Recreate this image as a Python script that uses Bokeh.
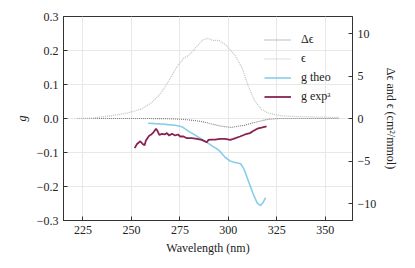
from bokeh.plotting import figure
from bokeh.models import Range1d, LinearAxis, FixedTicker, Legend, LegendItem
from bokeh.embed import file_html
from bokeh.resources import INLINE

# ---- data ----
eps_wl = [222, 230, 239, 248, 255, 260, 265, 270, 273.5, 277, 280, 283.5, 287, 289.5, 292, 295,
          299, 303.5, 307, 310, 313.5, 317, 320.5, 324, 327.5, 334, 340, 346, 352, 357]
eps = [0.0, 0.05, 0.3, 0.65, 1.1, 1.8, 2.9, 4.7, 6.1, 7.1, 7.5, 8.4, 9.3, 9.4, 9.2, 9.2,
       8.6, 7.4, 6.0, 4.0, 2.1, 1.1, 0.65, 0.45, 0.32, 0.24, 0.2, 0.17, 0.14, 0.12]

deps_wl = [222, 230, 240, 250, 260, 268, 274, 279, 284.5, 288, 291.5, 295, 298, 301, 303, 306,
           308.5, 311, 314, 317, 320, 322, 326, 330, 340, 350, 357]
deps = [0, 0, 0, 0, 0, -0.02, -0.07, -0.15, -0.3, -0.45, -0.65, -0.85, -0.95, -1.05, -1.0, -0.86,
        -0.8, -0.6, -0.45, -0.27, -0.12, -0.07, 0, 0, 0, 0, 0]

gtheo_wl = [258.6, 262, 265.8, 269, 272.6, 276, 279.4, 282, 284.6, 287, 289.7, 292, 294.8, 296.5,
            298.3, 300.9, 303, 304.3, 306.3, 308, 310.2, 312.8, 314.9, 316.6, 318, 319.2]
gtheo = [-0.014, -0.015, -0.016, -0.018, -0.020, -0.024, -0.037, -0.046, -0.055, -0.064, -0.073,
         -0.082, -0.092, -0.102, -0.114, -0.125, -0.129, -0.130, -0.133, -0.148, -0.182, -0.222,
         -0.249, -0.256, -0.246, -0.233]

gexp_wl = [251.7, 252.9, 254.6, 255.8, 256.8, 257.5, 258.6, 259.3, 260.3, 261.5, 262.7, 263.5,
           264.4, 265.8, 267.1, 268.3, 269.5, 270.9, 272.6, 274, 275.2, 276.9, 278.6, 281.2,
           283.8, 286.3, 288.9, 289.7, 291.5, 293.2, 295.7, 298.3, 300.9, 302.6, 306, 308.6,
           311.1, 312.8, 314.9, 317.1, 319.7]
gexp = [-0.087, -0.075, -0.067, -0.075, -0.079, -0.065, -0.055, -0.05, -0.047, -0.040, -0.030,
        -0.037, -0.048, -0.045, -0.047, -0.043, -0.05, -0.045, -0.05, -0.047, -0.053, -0.053,
        -0.058, -0.058, -0.06, -0.063, -0.07, -0.063, -0.062, -0.062, -0.06, -0.06, -0.063,
        -0.06, -0.053, -0.047, -0.043, -0.037, -0.030, -0.027, -0.023]

x_ticks = [225, 250, 275, 300, 325, 350]
g_ticks = [-0.3, -0.2, -0.1, 0.0, 0.1, 0.2, 0.3]
g_tick_labels = ["\u22120.3", "\u22120.2", "\u22120.1", "0.0", "0.1", "0.2", "0.3"]
e_ticks = [-10, -5, 0, 5, 10]
e_tick_labels = ["\u221210", "\u22125", "0", "5", "10"]

FONT = "Liberation Serif"
AX = "#333333"

p = figure(frame_width=289, frame_height=204, output_backend="svg", toolbar_location=None,
           x_range=Range1d(215, 364), y_range=Range1d(-0.3, 0.3),
           min_border_left=63, min_border_right=58, min_border_top=16, min_border_bottom=44)
p.extra_y_ranges = {"eps": Range1d(-12, 12)}
p.background_fill_color = "white"
p.border_fill_color = "white"
p.outline_line_color = AX
p.outline_line_width = 1

r_deps = p.line(deps_wl, deps, y_range_name="eps", line_color="#808080", line_width=1.2,
                line_dash="1 1")
r_eps = p.line(eps_wl, eps, y_range_name="eps", line_color="#c0c0c0", line_width=1.2,
               line_dash="1 1")
r_theo = p.line(gtheo_wl, gtheo, line_color="#87ceeb", line_width=1.6)
r_exp = p.line(gexp_wl, gexp, line_color="#882255", line_width=1.8)


def style_axis(ax, ticks, labels=None):
    ax.ticker = FixedTicker(ticks=ticks)
    if labels is not None:
        ax.major_label_overrides = {t: l for t, l in zip(ticks, labels)}
    ax.axis_line_color = AX
    ax.major_tick_line_color = AX
    ax.major_tick_in = 4
    ax.major_tick_out = 0
    ax.minor_tick_line_color = None
    ax.major_label_text_font = FONT
    ax.major_label_text_font_size = "12px"
    ax.major_label_text_color = "#222222"
    ax.axis_label_text_font = FONT
    ax.axis_label_text_font_size = "12px"
    ax.axis_label_text_font_style = "normal"
    ax.axis_label_text_color = "#222222"


style_axis(p.xaxis[0], x_ticks)
p.xaxis[0].axis_label = "Wavelength (nm)"
p.xaxis[0].axis_label_standoff = 4
style_axis(p.yaxis[0], g_ticks, g_tick_labels)
p.yaxis[0].axis_label = "g"
p.yaxis[0].axis_label_text_font_style = "italic"

right = LinearAxis(y_range_name="eps", axis_label="\u0394\u03f5 and \u03f5 (cm\u00b2/mmol)")
style_axis(right, e_ticks, e_tick_labels)
p.add_layout(right, "right")

p.xgrid.grid_line_color = "#e8e8e8"
p.ygrid.grid_line_color = "#e8e8e8"
p.xgrid.ticker = FixedTicker(ticks=x_ticks)
p.ygrid.ticker = FixedTicker(ticks=g_ticks)

legend = Legend(items=[
    LegendItem(label="\u0394\u03f5", renderers=[r_deps]),
    LegendItem(label="\u03f5", renderers=[r_eps]),
    LegendItem(label="g theo", renderers=[r_theo]),
    LegendItem(label="g exp\u1d43", renderers=[r_exp]),
], location=(201, 114))
legend.border_line_color = None
legend.background_fill_alpha = 0
legend.label_text_font = FONT
legend.label_text_font_size = "12px"
legend.label_text_color = "#222222"
legend.glyph_width = 27
legend.glyph_height = 19
legend.label_height = 19
legend.spacing = 0
legend.padding = 4
legend.margin = 0
legend.label_standoff = 10
p.add_layout(legend)

open("out.html", "w").write(file_html(p, INLINE))
